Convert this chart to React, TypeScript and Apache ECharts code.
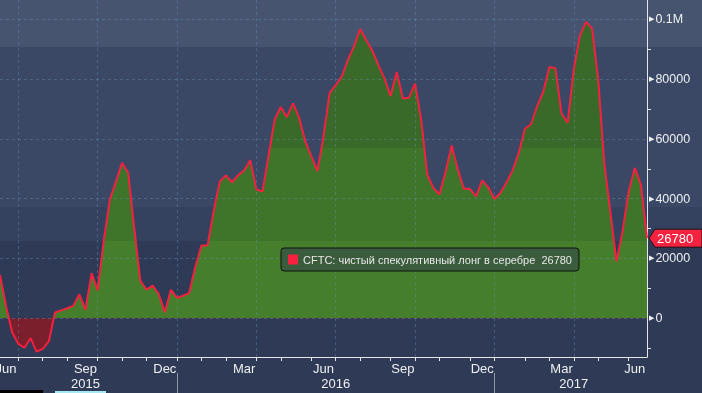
import React, { useEffect, useRef } from 'react';
import * as echarts from 'echarts';

const SERIES_NAME = 'CFTC: чистый спекулятивный лонг в серебре';
const START_DATE = '2015-06-09';
const NET_LONG = [
  14500, 3900, -4800, -8600, -9900, -6700, -11200, -10300, -7800, 1900,
  2600, 3300, 4100, 8000, 2800, 15100, 9300, 26000, 39700, 45700,
  52000, 48700, 30000, 12500, 9500, 10900, 8100, 2000, 9500, 6800,
  7500, 8400, 17200, 24300, 24300, 35700, 45700, 47800, 45500, 47800,
  49400, 52900, 43100, 42400, 54400, 66500, 70700, 67300, 71900, 67100,
  59300, 54200, 49200, 60900, 75300, 78000, 80900, 86500, 91000, 96800,
  93000, 89500, 84700, 80200, 74400, 82400, 73500, 73800, 78500, 66500,
  48100, 43600, 41400, 49000, 57800, 49800, 43300, 43300, 40800, 46100,
  43800, 39900, 42000, 45500, 49500, 55400, 63400, 64900, 71000, 75700,
  84100, 83700, 68500, 65400, 83300, 94500, 99200, 97000, 80000, 52000,
  35500, 19000, 29200, 42400, 50300, 44700, 26780,
];
const LAST_VALUE = 26780;
const MONTH_NAMES = ['Jan', 'Feb', 'Mar', 'Apr', 'May', 'Jun', 'Jul', 'Aug', 'Sep', 'Oct', 'Nov', 'Dec'];
const QUARTER_END_MONTHS = [2, 5, 8, 11];
const MONTH_LABEL_DATES = ['2015-06-16', '2015-09-15', '2015-12-15', '2016-03-15', '2016-06-14', '2016-09-13', '2016-12-13', '2017-03-14', '2017-06-06'];
const YEAR_LABEL_DATES = ['2015-09-15', '2016-06-28', '2017-03-28'];
const Y_LABEL_VALUES = [0, 20000, 40000, 60000, 80000, 100000];
const Y_MINOR_VALUES = [-10000, 10000, 30000, 50000, 70000, 90000];
const Y_GRID_VALUES = [0, 20000, 40000, 60000, 80000, 100000];
const Y_MIN = -13000;
const Y_MAX = 106500;

const FONT = '"Liberation Sans", Arial, sans-serif';
const W = 702;
const H = 393;
const GRID_RIGHT = 55;
const GRID_BOTTOM = 36;
const GRID_COLOR = 'rgba(105,150,190,0.38)';
const AXIS_COLOR = '#e4e6ea';

function buildDates(n: number): string[] {
  const out: string[] = [];
  const start = new Date(START_DATE + 'T00:00:00Z').getTime();
  for (let i = 0; i < n; i++) {
    const d = new Date(start + i * 7 * 86400000);
    out.push(d.toISOString().slice(0, 10));
  }
  return out;
}

export default function App() {
  const ref = useRef<HTMLDivElement>(null);

  useEffect(() => {
    if (!ref.current) return;
    const chart = echarts.init(ref.current, undefined, { renderer: 'svg', width: W, height: H });
    const dates = buildDates(NET_LONG.length);
    const monthOf = (s: string) => parseInt(s.slice(5, 7), 10) - 1;
    const monthEnd = new Set<number>();
    const quarterEnd = new Set<number>();
    const yearEnd = new Set<number>();
    for (let i = 0; i < dates.length - 1; i++) {
      const m = monthOf(dates[i]);
      if (m !== monthOf(dates[i + 1])) {
        monthEnd.add(i);
        if (QUARTER_END_MONTHS.includes(m)) quarterEnd.add(i);
        if (m === 11) yearEnd.add(i);
      }
    }
    const monthLabelSet = new Set(MONTH_LABEL_DATES);
    const yearLabelSet = new Set(YEAR_LABEL_DATES);

    const plotH = H - GRID_BOTTOM;
    const zeroY = (plotH * Y_MAX) / (Y_MAX - Y_MIN);
    const st = (y: number) => Math.min(1, Math.max(0, y / H));
    const areaFill = new echarts.graphic.LinearGradient(0, 0, 0, H, [
      { offset: 0, color: '#3a6a29' },
      { offset: st(148), color: '#3a6a29' },
      { offset: st(148), color: '#3f742b' },
      { offset: st(241), color: '#3f742b' },
      { offset: st(241), color: '#467f2c' },
      { offset: st(zeroY), color: '#467f2c' },
      { offset: st(zeroY), color: '#7a1f2b' },
      { offset: 1, color: '#7a1f2b' },
    ], true);

    const bands = [
      { y: 0, h: 47, c: '#46546f' },
      { y: 47, h: 160, c: '#3a4866' },
      { y: 207, h: 34, c: '#35425f' },
      { y: 241, h: H - 241, c: '#2e3a56' },
    ];

    const baseGraphics: any[] = [
      ...bands.map((b, i) => ({
        type: 'rect', id: 'band' + i, z: -10, silent: true,
        shape: { x: 0, y: b.y, width: W, height: b.h },
        style: { fill: b.c },
      })),
      { type: 'rect', id: 'deco1', z: 10, silent: true, shape: { x: 0, y: 390, width: 43, height: 3 }, style: { fill: '#000000' } },
      { type: 'rect', id: 'deco2', z: 10, silent: true, shape: { x: 55, y: 391, width: 51, height: 2 }, style: { fill: '#a6e9f2' } },
    ];

    const option: any = {
      animation: false,
      backgroundColor: 'transparent',
      textStyle: { fontFamily: FONT },
      grid: { left: 0, right: GRID_RIGHT, top: 0, bottom: GRID_BOTTOM, containLabel: false, outerBoundsMode: 'none' },
      legend: {
        show: true,
        left: 281,
        top: 248,
        data: [{ name: SERIES_NAME, icon: 'rect' }],
        itemWidth: 10,
        itemHeight: 10,
        padding: [6, 7, 6, 7],
        backgroundColor: '#3a5c3c',
        borderColor: '#0d120d',
        borderWidth: 1,
        borderRadius: 3,
        selectedMode: false,
        textStyle: { color: '#e8e8e8', fontSize: 11, fontFamily: FONT },
        formatter: (name: string) => name + '  ' + LAST_VALUE,
      },
      xAxis: [
        {
          type: 'category',
          data: dates,
          boundaryGap: false,
          z: 3,
          axisLine: { show: true, onZero: false, lineStyle: { color: AXIS_COLOR, width: 1 } },
          axisTick: { show: true, interval: (i: number) => monthEnd.has(i), length: 4, lineStyle: { color: AXIS_COLOR } },
          axisLabel: {
            interval: (_i: number, v: string) => monthLabelSet.has(v),
            formatter: (v: string) => MONTH_NAMES[monthOf(v)],
            color: '#eef0f2',
            fontSize: 13,
            fontFamily: FONT,
            margin: 5,
          },
          splitLine: { show: true, interval: (i: number) => quarterEnd.has(i), lineStyle: { color: GRID_COLOR, type: [3, 3], width: 1 } },
        },
        {
          type: 'category',
          data: dates,
          boundaryGap: false,
          position: 'bottom',
          offset: 16,
          axisLine: { show: true, onZero: false, lineStyle: { opacity: 0 } },
          axisTick: { show: true, interval: (i: number) => yearEnd.has(i), length: 20, lineStyle: { color: '#8c96aa' } },
          axisLabel: {
            interval: (_i: number, v: string) => yearLabelSet.has(v),
            formatter: (v: string) => v.slice(0, 4),
            color: '#eef0f2',
            fontSize: 13,
            fontFamily: FONT,
            margin: 4,
          },
          splitLine: { show: false },
        },
      ],
      yAxis: {
        type: 'value',
        position: 'right',
        min: Y_MIN,
        max: Y_MAX,
        axisLine: { show: true, lineStyle: { color: AXIS_COLOR, width: 1 } },
        axisTick: { show: true, customValues: Y_MINOR_VALUES, length: 4, lineStyle: { color: AXIS_COLOR } },
        axisLabel: {
          customValues: Y_LABEL_VALUES,
          margin: 2,
          color: '#eef0f2',
          fontSize: 12.5,
          fontFamily: FONT,
          formatter: (v: number) => '{tri|▶}' + (v === 100000 ? '0.1M' : String(v)),
          rich: {
            tri: { fontSize: 7, color: '#eef0f2', padding: [0, 1, 0, 0], fontFamily: 'DejaVu Sans' },
          },
        },
        splitLine: { show: false },
      },
      series: [
        {
          name: 'area',
          type: 'line',
          data: NET_LONG,
          xAxisIndex: 0,
          showSymbol: false,
          symbol: 'none',
          silent: true,
          z: 1,
          lineStyle: { width: 0, opacity: 0 },
          areaStyle: { color: areaFill, opacity: 1, origin: 0 },
          markLine: {
            silent: true,
            z: 3,
            symbol: ['none', 'none'],
            label: { show: false },
            lineStyle: { color: GRID_COLOR, type: [3, 3], width: 1 },
            data: Y_GRID_VALUES.map((v) => ({ yAxis: v })),
          },
        },
        {
          name: SERIES_NAME,
          type: 'line',
          data: NET_LONG,
          xAxisIndex: 0,
          showSymbol: false,
          symbol: 'none',
          z: 5,
          color: '#f5213f',
          itemStyle: { color: '#f5213f' },
          lineStyle: { color: '#f5213f', width: 2 },
        },
      ],
      graphic: baseGraphics,
    };

    chart.setOption(option);
    const p = chart.convertToPixel({ gridIndex: 0 }, [dates.length - 1, LAST_VALUE]) as number[];
    const px = p[0];
    const py = p[1];
    option.graphic = [
      ...baseGraphics,
      {
        type: 'polygon', id: 'tag', z: 100, silent: true,
        shape: { points: [[px + 2, py], [px + 8, py - 9], [W, py - 9], [W, py + 9], [px + 8, py + 9]] },
        style: { fill: '#f5213f', stroke: '#15151a', lineWidth: 1 },
      },
      {
        type: 'text', id: 'tagText', z: 101, silent: true,
        x: px + 10, y: py,
        style: { text: String(LAST_VALUE), fill: '#ffffff', fontSize: 13, fontFamily: FONT, verticalAlign: 'middle', align: 'left' },
      },
    ];
    chart.setOption(option, true);

    return () => chart.dispose();
  }, []);

  return <div ref={ref} style={{ position: 'fixed', left: 0, top: 0, width: W, height: H }} />;
}
